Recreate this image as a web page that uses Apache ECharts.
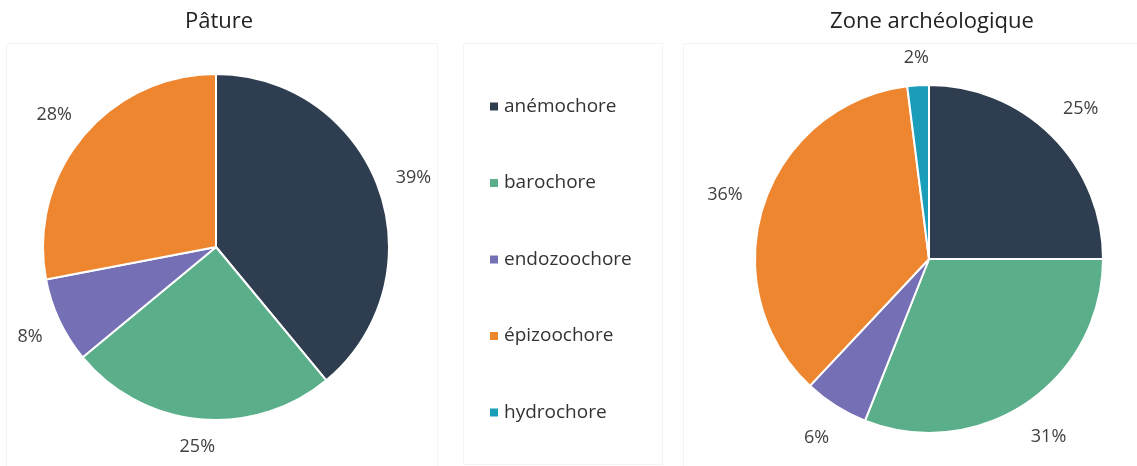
<!DOCTYPE html>
<html>
<head>
<meta charset="utf-8">
<script src="https://cdn.jsdelivr.net/npm/echarts@6/dist/echarts.min.js"></script>
<style>html,body{margin:0;padding:0;background:#fff}#c{width:1137px;height:466px}</style>
</head>
<body>
<div id="c"></div>
<script>
const categories = ['anémochore', 'barochore', 'endozoochore', 'épizoochore', 'hydrochore'];
const colors = ['#2E3E50', '#5BAE8A', '#7570B6', '#EE8630', '#1A9DB9'];
const titles = ['Pâture', 'Zone archéologique'];
const pature = [39, 25, 8, 28, 0];
const zone = [25, 31, 6, 36, 2];

const radii = [173, 174];
const labelGaps = [12, 16];

function buildData(values) {
  return categories.map((name, i) => ({ name, value: values[i], itemStyle: { color: colors[i] } }))
    .filter(d => d.value > 0);
}

// Place each label so that its (padded) box stays a fixed gap outside the pie edge,
// centred on the slice's mid-angle direction (as the library computes it).
function labelLayout(params) {
  const pts = params.labelLinePoints;
  if (!pts) return {};
  const r = radii[params.seriesIndex];
  const dxr = pts[1][0] - pts[0][0], dyr = pts[1][1] - pts[0][1];
  const len = Math.hypot(dxr, dyr) || 1;
  const ux = dxr / len, uy = dyr / len;
  const ox = pts[0][0] - ux * r, oy = pts[0][1] - uy * r;
  const hw = params.labelRect.width / 2 + 4, hh = 13;
  const gap = labelGaps[params.seriesIndex];
  let lo = r, hi = r + 120;
  for (let k = 0; k < 40; k++) {
    const t = (lo + hi) / 2;
    const cx = ux * t, cy = uy * t;
    const nx = Math.max(0, Math.abs(cx) - hw), ny = Math.max(0, Math.abs(cy) - hh);
    if (Math.hypot(nx, ny) < r + gap) lo = t; else hi = t;
  }
  const t = (lo + hi) / 2;
  return { x: ox + ux * t, y: oy + uy * t + 2, align: 'center', verticalAlign: 'middle' };
}

const chart = echarts.init(document.getElementById('c'));
const labelStyle = {
  show: true, position: 'outside', formatter: p => p.value + '%',
  color: '#404040', fontSize: 18, fontFamily: 'Open Sans'
};
const pieCommon = {
  type: 'pie', startAngle: 90, clockwise: true,
  itemStyle: { borderColor: '#fff', borderWidth: 2 },
  label: labelStyle,
  labelLine: { show: false, length: 14, length2: 0 },
  labelLayout: labelLayout,
  emphasis: { scale: false },
  avoidLabelOverlap: false
};
const titleStyle = { fontSize: 22, fontWeight: 'normal', color: '#222', fontFamily: 'Open Sans' };
chart.setOption({
  animation: false,
  title: [
    { text: titles[0], left: 214, top: 6, textAlign: 'center', textStyle: titleStyle },
    { text: titles[1], left: 927, top: 6, textAlign: 'center', textStyle: titleStyle }
  ],
  graphic: [
    { type: 'rect', shape: { x: 6.5, y: 43.5, width: 431, height: 430 }, style: { fill: 'none', stroke: '#f4f4f4', lineWidth: 1 }, silent: true },
    { type: 'rect', shape: { x: 463.5, y: 43.5, width: 199, height: 421 }, style: { fill: 'none', stroke: '#f4f4f4', lineWidth: 1 }, silent: true },
    { type: 'rect', shape: { x: 683.5, y: 43.5, width: 460, height: 430 }, style: { fill: 'none', stroke: '#f4f4f4', lineWidth: 1 }, silent: true }
  ],
  legend: {
    orient: 'vertical', left: 488, top: 97, padding: 0, itemWidth: 10, itemHeight: 10, itemGap: 57.5,
    icon: 'rect', data: categories,
    textStyle: { fontSize: 19, color: '#333', fontFamily: 'Open Sans' }
  },
  series: [
    Object.assign({}, pieCommon, { name: titles[0], center: [216, 247], radius: radii[0], data: buildData(pature) }),
    Object.assign({}, pieCommon, { name: titles[1], center: [929, 259], radius: radii[1], data: buildData(zone) })
  ]
});
</script>
</body>
</html>
